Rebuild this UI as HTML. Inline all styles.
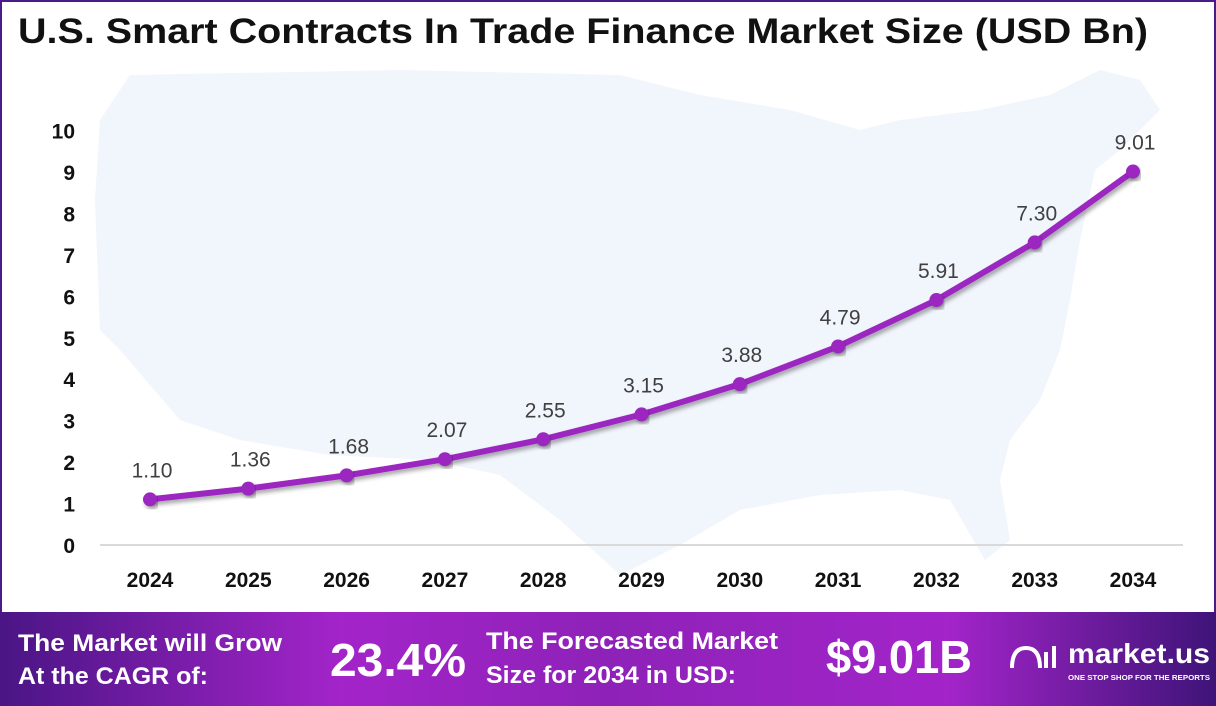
<!DOCTYPE html>
<html><head><meta charset="utf-8"><style>
body{margin:0;width:1216px;height:706px;overflow:hidden;font-family:"Liberation Sans",sans-serif;}
#wrap{position:relative;width:1212px;height:704px;border:2px solid #4a1a8a;border-bottom:0;background:#fff;}
</style></head><body>
<div id="wrap">
<svg id="chart" width="1216" height="706" style="position:absolute;left:-2px;top:-2px">
<defs>
<linearGradient id="bg" x1="0" x2="1" y1="0" y2="0">
<stop offset="0" stop-color="#4a1585"/><stop offset="0.28" stop-color="#a324c9"/><stop offset="0.5" stop-color="#8e22b8"/><stop offset="0.78" stop-color="#a324c9"/><stop offset="1" stop-color="#3e1478"/>
</linearGradient>
<filter id="sh" x="-5%" y="-20%" width="110%" height="140%"><feDropShadow dx="2" dy="3" stdDeviation="2" flood-opacity="0.35"/></filter>
</defs>
<polygon fill="#f1f5fc" points="100,120 130,75 400,70 620,75 700,95 790,110 860,130 900,120 980,110 1050,95 1100,70 1140,80 1160,110 1120,150 1095,170 1080,240 1070,300 1060,350 1040,400 1010,440 1000,480 1010,540 985,560 950,500 900,490 820,495 740,510 680,545 620,575 560,520 500,475 430,460 330,455 240,440 180,420 120,350 100,330 95,200"/>
<text x="18" y="43" font-size="35" font-weight="bold" fill="#111" textLength="1130" lengthAdjust="spacingAndGlyphs">U.S. Smart Contracts In Trade Finance Market Size (USD Bn)</text>
<g id="axes"></g>
<g id="series"></g>
<rect x="0" y="612" width="1216" height="94" fill="url(#bg)"/>
<g fill="#fff" font-weight="bold" font-family="Liberation Sans,sans-serif">
<text x="18" y="651" font-size="24" textLength="264" lengthAdjust="spacingAndGlyphs">The Market will Grow</text>
<text x="18" y="684" font-size="24" textLength="190" lengthAdjust="spacingAndGlyphs">At the CAGR of:</text>
<text x="330" y="676" font-size="46" textLength="136" lengthAdjust="spacingAndGlyphs">23.4%</text>
<text x="486" y="649" font-size="24" textLength="292" lengthAdjust="spacingAndGlyphs">The Forecasted Market</text>
<text x="486" y="683" font-size="24" textLength="250" lengthAdjust="spacingAndGlyphs">Size for 2034 in USD:</text>
<text x="826" y="673" font-size="46" textLength="146" lengthAdjust="spacingAndGlyphs">$9.01B</text>
<text x="1068" y="663" font-size="28" textLength="142" lengthAdjust="spacingAndGlyphs">market.us</text>
<text x="1068" y="680" font-size="7" textLength="142" lengthAdjust="spacingAndGlyphs">ONE STOP SHOP FOR THE REPORTS</text>
<path d="M1012 668 q0 -20 14 -20 q14 0 14 20 M1046 668 v-16 M1054 668 v-22" stroke="#fff" stroke-width="4" fill="none"/>
</g>
</svg>
</div>
<script>
const years=["2024","2025","2026","2027","2028","2029","2030","2031","2032","2033","2034"];
const values=[1.10,1.36,1.68,2.07,2.55,3.15,3.88,4.79,5.91,7.30,9.01];
const yTicks=[0,1,2,3,4,5,6,7,8,9,10];
const NS="http://www.w3.org/2000/svg";
const x=i=>150+i*98.3;
const y=v=>545-v*41.45;
function mk(t,a,p){const e=document.createElementNS(NS,t);for(const k in a)e.setAttribute(k,a[k]);p.appendChild(e);return e;}
const ax=document.getElementById('axes'),se=document.getElementById('series');
const base=mk('line',{x1:100,x2:1183,y1:545,y2:545,stroke:'#d9d9d9','stroke-width':2},ax);


yTicks.forEach(v=>{const t=mk('text',{x:75,y:y(v)+8,'text-anchor':'end','font-size':21,'font-weight':'bold',fill:'#111'},ax);t.textContent=v;

});
years.forEach((yr,i)=>{const t=mk('text',{x:x(i),y:587,'text-anchor':'middle','font-size':21,'font-weight':'bold',fill:'#111'},ax);t.textContent=yr;

});
const pl=mk('polyline',{points:values.map((v,i)=>x(i)+','+y(v)).join(' '),fill:'none',stroke:'#9b27c0','stroke-width':6,'stroke-linejoin':'round',filter:'url(#sh)'},se);


values.forEach((v,i)=>{const c=mk('circle',{cx:x(i),cy:y(v),r:7,fill:'#9b27c0',filter:'url(#sh)'},se);


const t=mk('text',{x:x(i)+2,y:y(v)-22,'text-anchor':'middle','font-size':21,fill:'#404040'},se);t.textContent=v.toFixed(2);

});
</script>
</body></html>
